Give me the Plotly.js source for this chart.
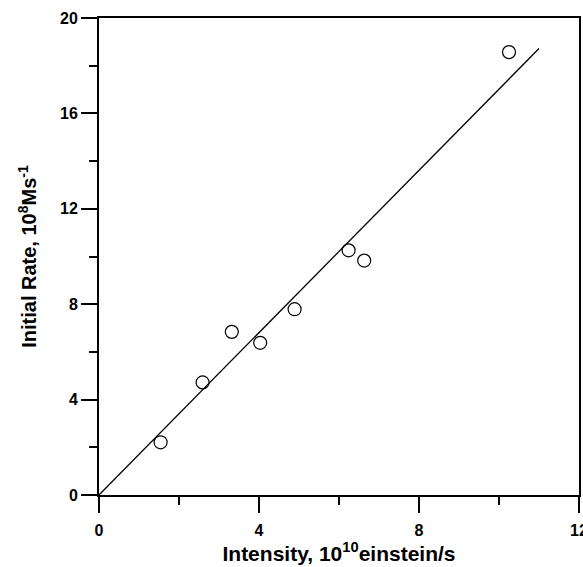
<!DOCTYPE html>
<html>
<head>
<meta charset="utf-8">
<script src="https://cdn.plot.ly/plotly-3.0.1.min.js"></script>
<style>html,body{margin:0;padding:0;background:#fff;}#chart{width:583px;height:567px;}</style>
</head>
<body>
<div id="chart"></div>
<script>
var intensity = [1.54, 2.59, 3.32, 4.03, 4.89, 6.24, 6.63, 10.25];
var initialRate = [2.21, 4.72, 6.84, 6.38, 7.79, 10.26, 9.83, 18.57];
var fitX = [0, 11.0];
var fitY = [0, 18.72];
var xTicks = [0, 4, 8, 12];
var yTicks = [0, 4, 8, 12, 16, 20];

var fontFam = 'Arial, "Liberation Sans", sans-serif';

var traces = [
  {x: fitX, y: fitY, mode: 'lines', type: 'scatter', line: {color: '#000', width: 1.3}, hoverinfo: 'skip', cliponaxis: false},
  {x: intensity, y: initialRate, mode: 'markers', type: 'scatter',
   marker: {symbol: 'circle-open', size: 13, color: '#000', line: {width: 1.2, color: '#000'}}, cliponaxis: false}
];

function lbl(arr) {
  return arr.map(function (v) { return '<span style="font-size:16px;font-weight:bold">' + v + '</span>'; });
}

function axisBase() {
  return {
    showgrid: false, zeroline: false, showline: true, linecolor: '#000', linewidth: 2,
    mirror: true, ticks: 'outside', ticklen: 16, tickwidth: 2, tickcolor: '#000',
    ticklabeloverflow: 'allow',
    tickfont: {family: fontFam, size: 16, color: '#000'}
  };
}

var layout = {
  width: 583, height: 567,
  margin: {l: 99, r: 4, t: 18, b: 72},
  paper_bgcolor: '#fff', plot_bgcolor: '#fff',
  showlegend: false,
  font: {family: fontFam, size: 16, color: '#000'},
  xaxis: Object.assign(axisBase(), {
    range: [0, 12], tickmode: 'array', tickvals: xTicks, ticktext: lbl(xTicks),
    ticklabelstandoff: 4,
    minor: {dtick: 2, ticks: 'outside', ticklen: 8, tickwidth: 2, tickcolor: '#000'},
    title: {text: '<b>Intensity, 10<sup>10</sup>einstein/s</b>', font: {family: fontFam, size: 21, color: '#000'}, standoff: 6}
  }),
  yaxis: Object.assign(axisBase(), {
    range: [0, 20], tickmode: 'array', tickvals: yTicks, ticktext: lbl(yTicks),
    minor: {dtick: 2, ticks: 'outside', ticklen: 8, tickwidth: 2, tickcolor: '#000'},
    title: {text: '<b>Initial Rate, 10<sup>8</sup>Ms<sup>-1</sup></b>', font: {family: fontFam, size: 20, color: '#000'}, standoff: 18}
  })
};

Plotly.newPlot('chart', traces, layout, {displayModeBar: false, staticPlot: true});
</script>
</body>
</html>
